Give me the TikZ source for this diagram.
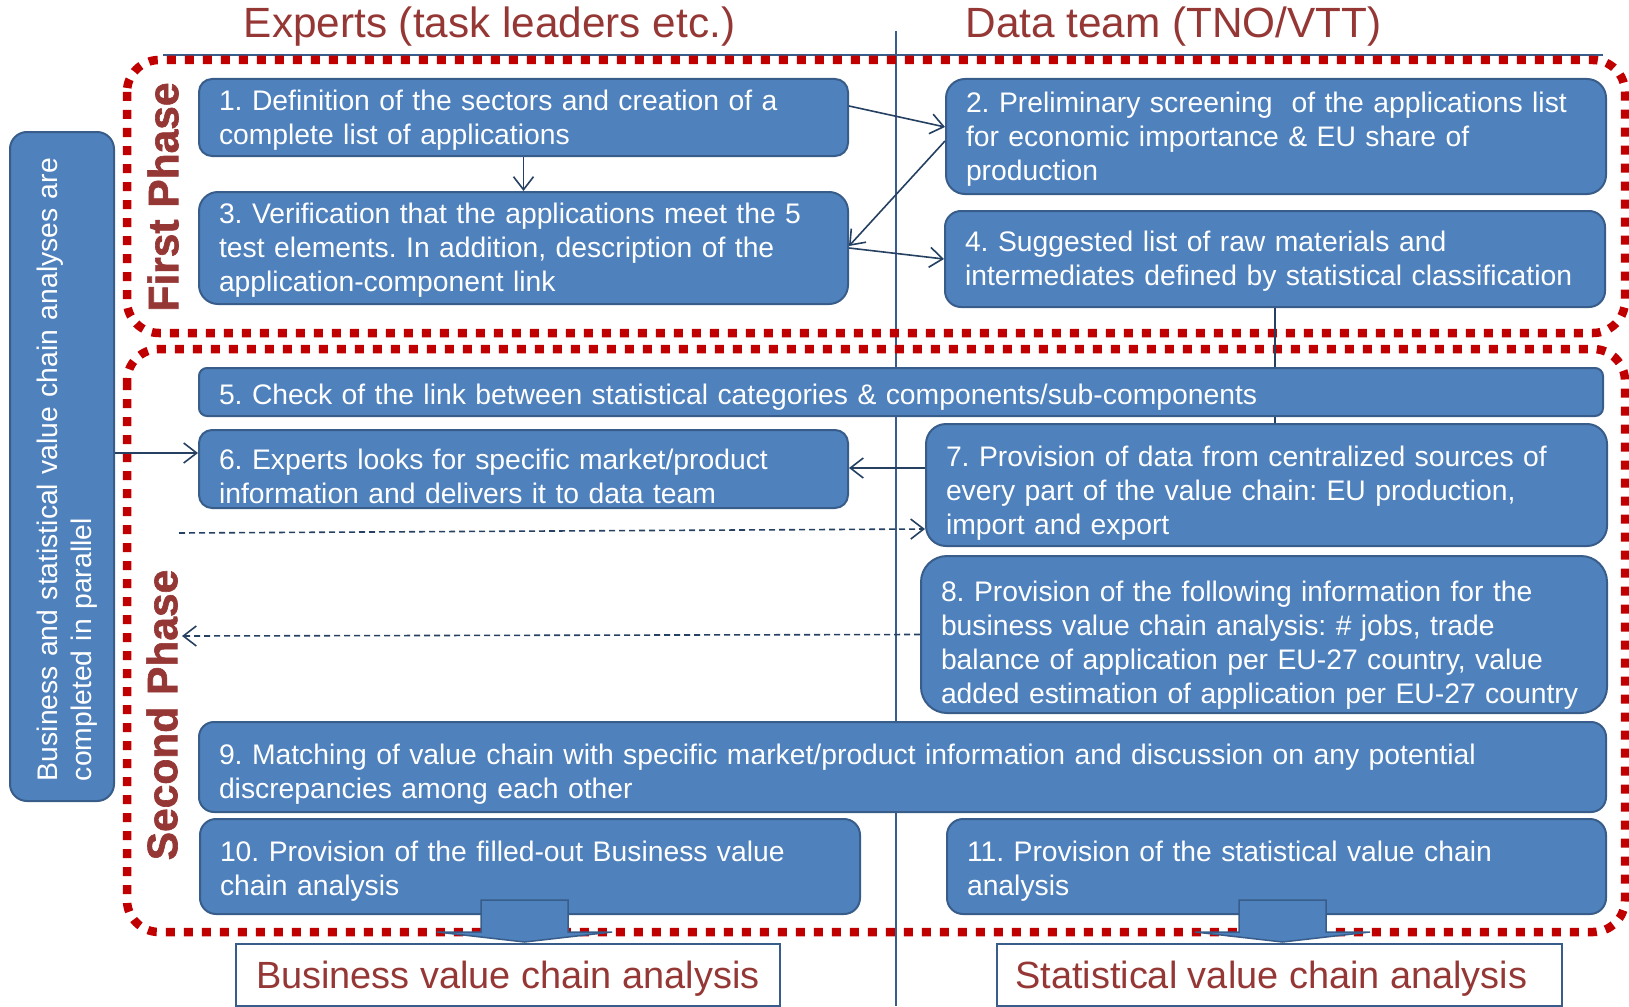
\documentclass[tikz,border=0pt]{standalone}
\usepackage{fontspec}
\setmainfont{Liberation Sans}
\newfontfamily\heavyfont{Liberation Sans}[FakeBold=1.5]
\usepackage{tikz}
\usetikzlibrary{arrows.meta,positioning,calc}

\definecolor{boxfill}{HTML}{4F81BD}
\definecolor{boxline}{HTML}{385D8A}
\definecolor{dotred}{HTML}{C00000}
\definecolor{headred}{HTML}{953735}
\definecolor{connline}{HTML}{254061}

\tikzset{
  stage/.style={draw=boxline, fill=boxfill, line width=2pt, text=white, align=left,
    anchor=north west, inner xsep=20pt, inner ysep=2pt,
    font=\fontsize{28.3}{34}\selectfont},
  % move the text of a stage box down without resizing it
  textdrop/.style={execute at begin node={\hrule height0pt width0pt\vskip#1\relax},
    execute at end node={\par\vskip-#1\relax\hrule height0pt width0pt}},
  header/.style={text=headred, anchor=base, inner sep=0pt,
    font=\fontsize{42.3}{50}\selectfont},
  phase/.style={text=headred, rotate=90, inner sep=0pt,
    font=\heavyfont\bfseries\fontsize{42.5}{50}\selectfont},
  outbox/.style={draw=boxline, fill=white, line width=1.5pt, text=headred,
    anchor=north west, text height=36pt, text depth=8pt,
    font=\fontsize{37.9}{45}\selectfont},
  phaseframe/.style={draw=dotred, line width=8.5pt, dash pattern=on 9pt off 9pt,
    rounded corners=32pt},
  guide/.style={draw=boxline, line width=1.5pt},
  conn/.style={draw=connline, line width=1.6pt, -{Straight Barb[length=13pt,width=20pt]}},
  plain/.style={draw=connline, line width=1.6pt},
  dashline/.style={dash pattern=on 6pt off 4pt},
  blockarrow/.style={draw=boxline, fill=boxfill, line width=1.5pt, line join=miter}
}

% flat block arrow under a box
\newcommand{\downblock}[2]{%
  \draw[blockarrow] ([xshift=#2,yshift=15pt]#1.south) -- ++(0,32) -- ++(-44,0)
    -- ++(87.5,10) -- ++(87.5,-10) -- ++(-44,0) -- ++(0,-32) -- cycle;}

\begin{document}
\frenchspacing
\begin{tikzpicture}[x=1pt, y=-1pt]
    \useasboundingbox (0,0) rectangle (1629,1006);

    % Columns
    \draw[guide] (896,31) -- (896,1006);
    \draw[guide] (163,55) -- (1603,55);
    \node[header] (hexp) at (489.5,38) {Experts (task leaders etc.)};
    \node[header] (hdata) at (1173.5,38) {Data team (TNO/VTT)};

    % Phases
    \draw[phaseframe] (127,60) rectangle (1625,333);
    \draw[phaseframe] (127,349) rectangle (1625,932);
    \node[phase] (first) at (163,197) {First Phase};
    \node[phase] (second) at (162,715) {Second Phase};

    % Parallel note
    \node[stage, anchor=center, rotate=90, text width=629pt, minimum height=104pt,
        rounded corners=17pt, textdrop=5pt] (leftbox) at (62,466.5)
        {Business and statistical value chain analyses are\\completed in parallel};

    % First phase steps
    \node[stage, text width=609pt, minimum height=77pt, rounded corners=13pt, textdrop=3pt] (box1) at (198,78)
        {1. Definition of the sectors and creation of a\\complete list of applications};
    \node[stage, text width=620pt, minimum height=115pt, rounded corners=19pt, textdrop=3pt] (box2) at (945,78)
        {2. Preliminary screening~ of the applications list\\for economic importance \& EU share of\\production};
    \node[stage, text width=609pt, minimum height=112pt, rounded corners=19pt, textdrop=2pt] (box3) at (198,191)
        {3. Verification that the applications meet the 5\\test elements. In addition, description of the\\application-component link};
    \node[stage, text width=620pt, minimum height=96pt, rounded corners=16pt, textdrop=2pt] (box4) at (944,210)
        {4. Suggested list of raw materials and\\intermediates defined by statistical classification};

    % Second phase steps
    \draw[plain] (box4.south) -- (box4.south |- 0,367);
    \draw[plain] (box4.south |- 0,415) -- (box4.south |- 0,423);
    \node[stage, text width=1364pt, minimum height=48pt, rounded corners=8pt, textdrop=5pt] (box5) at (198,367)
        {5. Check of the link between statistical categories \& components/sub-components};
    \node[stage, text width=609pt, minimum height=78pt, rounded corners=13pt, textdrop=7pt] (box6) at (198,429)
        {6. Experts looks for specific market/product\\information and delivers it to data team};
    \node[stage, text width=641pt, minimum height=122pt, rounded corners=20pt, textdrop=8pt] (box7) at (925,423)
        {7. Provision of data from centralized sources of\\every part of the value chain: EU production,\\import and export};
    \node[stage, text width=646pt, minimum height=157pt, rounded corners=26pt, textdrop=11pt] (box8) at (920,555)
        {8. Provision of the following information for the\\business value chain analysis: \# jobs, trade\\balance of application per EU-27 country, value\\added estimation of application per EU-27 country};
    \node[stage, text width=1367pt, minimum height=90pt, rounded corners=15pt, textdrop=7pt] (box9) at (198,721)
        {9. Matching of value chain with specific market/product information and discussion on any potential\\discrepancies among each other};
    \node[stage, text width=620pt, minimum height=95pt, rounded corners=16pt, textdrop=5pt] (box10) at (199,818)
        {10. Provision of the filled-out Business value\\chain analysis};
    \node[stage, text width=619pt, minimum height=95pt, rounded corners=16pt, textdrop=5pt] (box11) at (946,818)
        {11. Provision of the statistical value chain\\analysis};

    % Flows
    \draw[conn] (box1.south) -- (box3.north);
    \draw[conn] ([yshift=11.5pt]box1.east) -- ([yshift=9.5pt]box2.west);
    \draw[conn] ([yshift=-4.5pt]box2.west) -- ([yshift=2pt]box3.east);
    \draw[conn] (box3.east) -- (box4.west);

    \coordinate (in6) at ([yshift=16pt]box6.west);
    \draw[conn] (leftbox.south |- in6) -- (in6);
    \coordinate (out7) at ([yshift=17pt]box7.west);
    \draw[conn] (out7) -- (box6.east |- out7);

    \coordinate (dfrom) at (179,533);
    \draw[conn, dashline] (dfrom) -- ([yshift=18pt]box7.south west);
    \coordinate (dto) at (182,636);
    \draw[conn, dashline] (box8.west) -- (dto);

    % Results
    \downblock{box10}{-49pt}
    \downblock{box11}{-37.5pt}
    \node[outbox, minimum width=544pt, minimum height=62pt] (outbiz) at (235,943)
        {Business value chain analysis};
    \node[outbox, minimum width=565pt, minimum height=62pt] (outstat) at (996,943)
        {Statistical value chain analysis\hspace*{16pt}};
\end{tikzpicture}
\end{document}
